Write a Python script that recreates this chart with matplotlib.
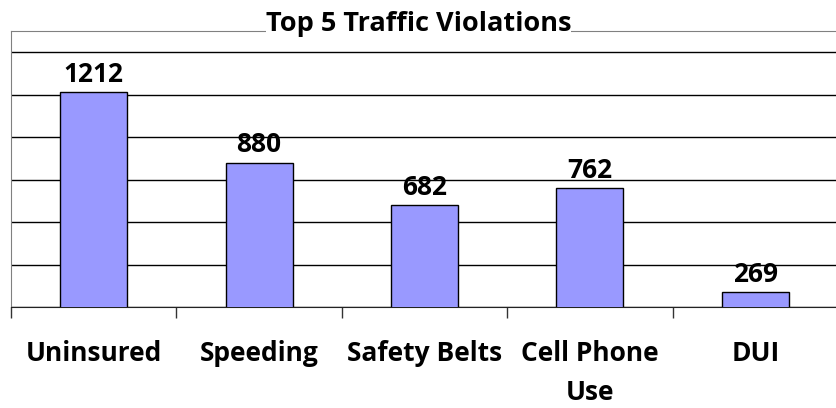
import matplotlib
matplotlib.use('Agg')
import matplotlib.pyplot as plt

categories = ["Uninsured", "Speeding", "Safety Belts", "Cell Phone\nUse", "DUI"]
counts = [1212, 880, 682, 762, 269]
y_ticks = [200, 400, 600, 800, 1000, 1200, 1400]

plt.rcParams['font.family'] = ['Open Sans', 'DejaVu Sans']

fig = plt.figure(figsize=(8.37, 4.08), dpi=100)
ax = fig.add_axes([11 / 837, 101 / 408, 827 / 837, 276 / 408])

x = list(range(len(categories)))
bars = ax.bar(x, counts, width=0.405, color='#9999FF', edgecolor='black',
              linewidth=1, zorder=3)
ax.bar_label(bars, labels=[str(c) for c in counts], padding=3,
             fontsize=19, fontweight='bold', color='black')

ax.set_xlim(-0.5, len(categories) - 0.5)
ax.set_ylim(200, 1500)

# y axis: only gridlines
ax.set_yticks(y_ticks)
ax.tick_params(axis='y', left=False, labelleft=False)
ax.grid(axis='y', color='black', linewidth=1, zorder=0)

# x axis: ticks between categories, labels at centres
ax.set_xticks([i - 0.5 for i in range(len(categories) + 1)])
ax.set_xticklabels([])
ax.tick_params(axis='x', which='major', direction='out', length=8, width=1,
               color='#333333')
ax.set_xticks(x, minor=True)
ax.set_xticklabels(categories, minor=True, fontsize=19, fontweight='bold',
                   linespacing=1.55)
ax.tick_params(axis='x', which='minor', length=0, pad=24)

ax.spines['left'].set_color('#808080')
ax.spines['top'].set_color('#808080')
ax.spines['right'].set_visible(False)
ax.spines['bottom'].set_color('#222222')

fig.text(0.5, (408 - 31) / 408, "Top 5 Traffic Violations", ha='center',
         va='baseline', fontsize=19.5, fontweight='bold',
         bbox=dict(facecolor='white', edgecolor='none', pad=0))

fig.savefig('out.png', dpi=100, facecolor='white')
plt.close()
